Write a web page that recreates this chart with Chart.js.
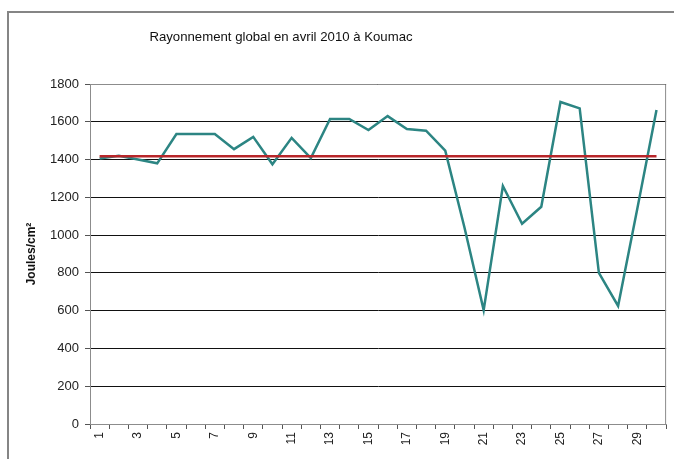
<!DOCTYPE html>
<html>
<head>
<meta charset="utf-8">
<script src="https://cdn.jsdelivr.net/npm/chart.js@4.4.0/dist/chart.umd.min.js"></script>
<style>
  html, body { margin: 0; padding: 0; background: #fff; }
  .wrap { position: relative; width: 674px; height: 459px; overflow: hidden; }
  .frame { position: absolute; left: 7px; top: 11px; width: 700px; height: 500px; border-left: 2px solid #858585; border-top: 2px solid #858585; }
  canvas { position: absolute; left: 0; top: 0; }
</style>
</head>
<body>
<div class="wrap">
  <div class="frame"></div>
  <canvas id="chart" width="674" height="459"></canvas>
</div>
<script>
// Days of April 2010
const days = ['1', '2', '3', '4', '5', '6', '7', '8', '9', '10', '11', '12', '13', '14', '15',
  '16', '17', '18', '19', '20', '21', '22', '23', '24', '25', '26', '27', '28', '29', '30'];

// Daily global radiation (Joules/cm²)
const radiation = [1405, 1420, 1400, 1380, 1535, 1535, 1535, 1455, 1520, 1375,
  1515, 1408, 1615, 1615, 1556, 1630, 1562, 1553, 1447, 1040,
  603, 1260, 1060, 1150, 1705, 1671, 800, 625, 1140, 1662];

// Reference level (red line)
const reference = [1417, 1417, 1417, 1417, 1417, 1417, 1417, 1417, 1417, 1417,
  1417, 1417, 1417, 1417, 1417, 1417, 1417, 1417, 1417, 1417,
  1417, 1417, 1417, 1417, 1417, 1417, 1417, 1417, 1417, 1417];

const chartTitle = 'Rayonnement global en avril 2010 à Koumac';
const yTitle = 'Joules/cm²';

const sans = '"Liberation Sans", Arial, sans-serif';

// Title drawn at its own spot, plus the grey frame round the plot area
const decorations = {
  id: 'decorations',
  afterDraw(chart) {
    const ctx = chart.ctx;
    const area = chart.chartArea;
    ctx.save();
    ctx.strokeStyle = '#8c8c8c';
    ctx.lineWidth = 1;
    ctx.beginPath();
    ctx.moveTo(area.left, area.top + 0.5);
    ctx.lineTo(area.right - 0.5, area.top + 0.5);
    ctx.lineTo(area.right - 0.5, area.bottom);
    ctx.stroke();
    ctx.fillStyle = '#111';
    ctx.font = '13.2px ' + sans;
    ctx.textAlign = 'center';
    ctx.textBaseline = 'middle';
    ctx.fillText(chartTitle, 281, 37);
    ctx.restore();
  }
};

const ctx = document.querySelector('#chart');

new Chart(ctx, {
  type: 'line',
  data: {
    labels: days,
    datasets: [{
      label: 'Référence',
      data: reference,
      borderColor: '#b8262a',
      borderWidth: 2.5,
      pointRadius: 0,
      tension: 0
    }, {
      label: 'Rayonnement',
      data: radiation,
      borderColor: '#2c8583',
      borderWidth: 2.5,
      pointRadius: 0,
      tension: 0
    }]
  },
  options: {
    responsive: false,
    animation: false,
    layout: {
      padding: { left: 0, top: 84, right: 6, bottom: 0 }
    },
    scales: {
      x: {
        offset: true,
        afterFit(scale) { scale.height = 35; },
        grid: {
          offset: true,
          drawOnChartArea: false,
          tickLength: 5,
          color: '#555'
        },
        border: { color: '#8c8c8c', width: 1 },
        ticks: {
          autoSkip: false,
          maxRotation: 90,
          minRotation: 90,
          padding: 3,
          color: '#222',
          font: { family: sans, size: 12 },
          callback(value, index) {
            return index % 2 === 0 ? days[index] : '';
          }
        }
      },
      y: {
        min: 0,
        max: 1800,
        afterFit(scale) { scale.width = 90; },
        grid: {
          color: '#111',
          lineWidth: 1,
          tickLength: 5,
          tickColor: '#555'
        },
        border: { color: '#8c8c8c', width: 1 },
        ticks: {
          stepSize: 200,
          padding: 6,
          color: '#222',
          font: { family: sans, size: 13 },
          callback(value) { return String(value); }
        },
        title: {
          display: true,
          text: yTitle,
          color: '#111',
          padding: { top: 24 },
          font: { family: sans, size: 12, weight: 'bold' }
        }
      }
    },
    plugins: {
      legend: { display: false },
      title: { display: false },
      tooltip: { enabled: false }
    }
  },
  plugins: [decorations]
});
</script>
</body>
</html>
